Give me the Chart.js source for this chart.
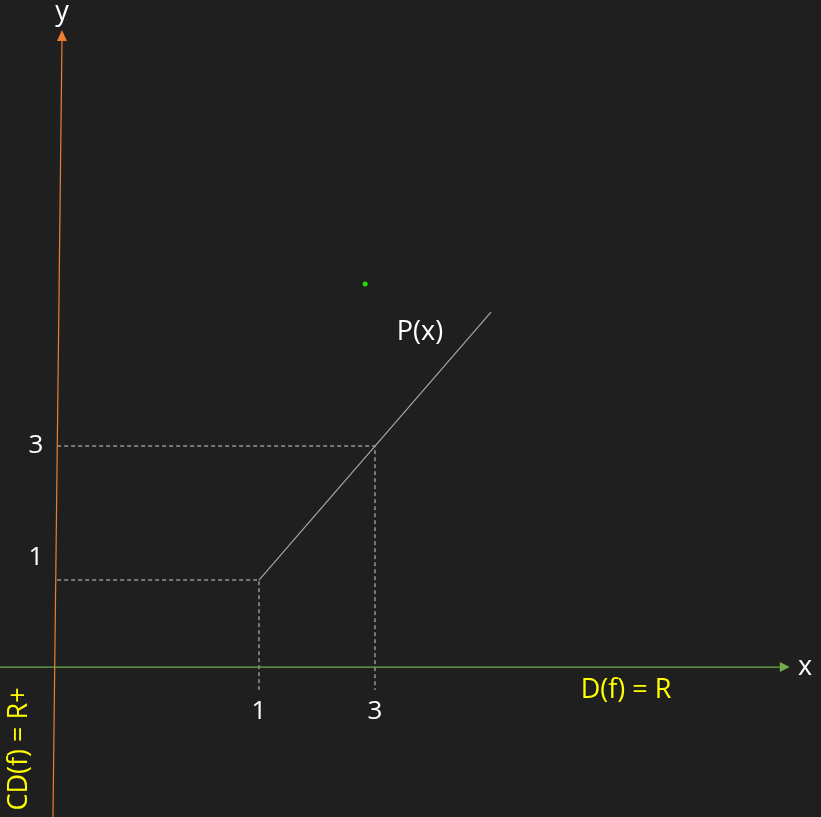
<!DOCTYPE html>
<html>
<head>
<meta charset="utf-8">
<script src="https://cdn.jsdelivr.net/npm/chart.js@4"></script>
<style>
  html, body { margin: 0; padding: 0; background: #1f1f1f; }
  #wrap { width: 821px; height: 817px; }
</style>
</head>
<body>
<div id="wrap"><canvas id="plot"></canvas></div>
<script>
// P(x) polyline points
const px = [1, 3, 5];
const py = [1, 3, 5];
// guide values (dashed helpers)
const guideVals = [1, 3];
const tickLabels = ['1', '3'];
// stray green point
const dotX = [2.83];
const dotY = [5.42];
// axes positions (in data units)
const xAxisY = -0.3;
const yAxisBottom = [-2.552, -2.537];
const yAxisTop = [-2.397, 9.06];
const guideLeft = -2.48;
const guideBottom = -0.64;

const xMin = -3.4655, xMax = 10.6897;
const yMin = -2.537, yMax = 9.657;

const white = '#ffffff';
const yellow = '#ffff00';
const orange = '#ed7d31';
const green = '#70ad47';
const fontFam = '"Open Sans", "Noto Sans", sans-serif';

function xy(xs, ys) {
    return xs.map((x, i) => ({x: x, y: ys[i]}));
}

const datasets = [
    {
        data: xy(px, py),
        borderColor: '#a6a6a6', borderWidth: 1.2, pointRadius: 0
    },
    {
        data: [{x: xMin, y: xAxisY}, {x: 9.98, y: xAxisY}],
        borderColor: green, borderWidth: 1.2, pointRadius: 0
    },
    {
        data: [{x: yAxisBottom[0], y: yAxisBottom[1]}, {x: yAxisTop[0], y: yAxisTop[1]}],
        borderColor: orange, borderWidth: 1.2, pointRadius: 0
    },
    {
        data: xy(dotX, dotY),
        showLine: false, pointRadius: 2.5, pointBackgroundColor: '#22dd00', pointBorderWidth: 0
    }
];
guideVals.forEach(v => {
    datasets.push({
        data: [{x: guideLeft, y: v}, {x: v, y: v}, {x: v, y: guideBottom}],
        borderColor: '#d0d0d0', borderWidth: 1, borderDash: [4, 3], pointRadius: 0
    });
});

const annotate = {
    id: 'annotate',
    afterDatasetsDraw(chart) {
        const ctx = chart.ctx;
        const sx = chart.scales.x, sy = chart.scales.y;
        const X = v => sx.getPixelForValue(v);
        const Y = v => sy.getPixelForValue(v);
        ctx.save();
        // arrow heads
        ctx.fillStyle = green;
        const ax = X(9.98), ay = Y(xAxisY);
        ctx.beginPath();
        ctx.moveTo(ax + 10, ay); ctx.lineTo(ax, ay - 5); ctx.lineTo(ax, ay + 5); ctx.closePath(); ctx.fill();
        ctx.fillStyle = orange;
        const tx = X(yAxisTop[0]), ty = Y(yAxisTop[1]);
        ctx.beginPath();
        ctx.moveTo(tx, ty - 10); ctx.lineTo(tx - 5, ty + 1); ctx.lineTo(tx + 5, ty + 1); ctx.closePath(); ctx.fill();

        ctx.textAlign = 'center';
        ctx.textBaseline = 'middle';
        ctx.font = '26px ' + fontFam;
        ctx.fillStyle = white;
        guideVals.forEach((v, i) => {
            ctx.fillText(tickLabels[i], X(v), 712);
            ctx.fillText(tickLabels[i], 36, Y(v) + (i === 0 ? -22 : 0));
        });
        ctx.font = '27px ' + fontFam;
        ctx.fillText('P(x)', 420, 332);
        ctx.fillText('x', 805, 667);
        ctx.fillText('y', 62, 12);
        ctx.fillStyle = yellow;
        ctx.fillText('D(f) = R', 626, 690);
        ctx.translate(19, 749);
        ctx.rotate(-Math.PI / 2);
        ctx.fillText('CD(f) = R+', 0, 0);
        ctx.restore();
    }
};

new Chart(document.getElementById('plot'), {
    type: 'line',
    data: {datasets: datasets},
    options: {
        responsive: true,
        maintainAspectRatio: false,
        animation: false,
        layout: {padding: 0, autoPadding: false},
        plugins: {legend: {display: false}, tooltip: {enabled: false}},
        scales: {
            x: {type: 'linear', display: false, min: xMin, max: xMax},
            y: {type: 'linear', display: false, min: yMin, max: yMax}
        }
    },
    plugins: [annotate]
});
</script>
</body>
</html>
